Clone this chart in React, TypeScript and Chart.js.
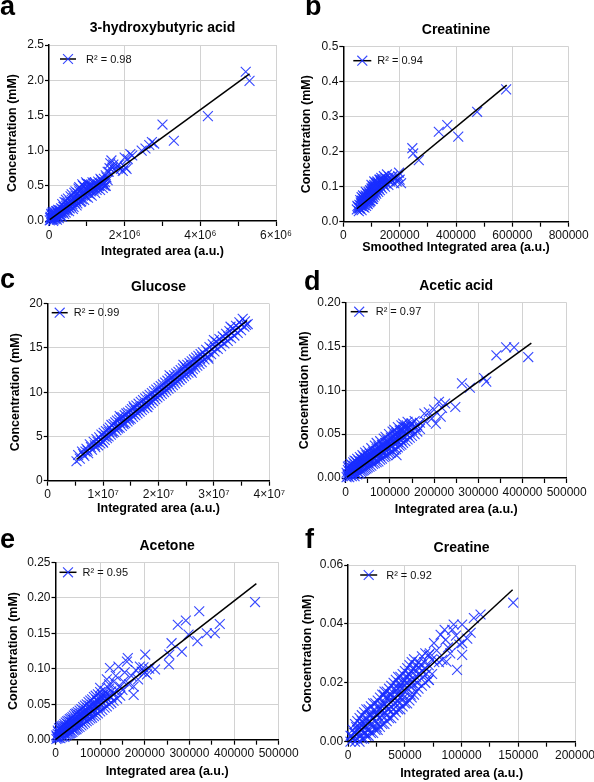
import React, { useEffect, useRef } from 'react';
import { Chart, registerables } from 'chart.js';

Chart.register(...registerables);
Chart.defaults.font.family = '"Liberation Sans", Arial, Helvetica, sans-serif';

type Pt = [number, number];

// ---------------- a: 3-hydroxybutyric acid (area in 10^6 a.u.) ----------------
const hbPoints: Pt[] = [
  [0.02,0.01],[0.03,0.04],[0.04,0.06],[0.05,0.02],[0.06,0.1],[0.07,0.08],[0.08,0.03],[0.09,0.07],[0.1,0.05],[0.1,0.1],
  [0.11,0.0],[0.12,0.02],[0.12,0.13],[0.13,0.09],[0.14,0.05],[0.15,0.06],[0.15,0.03],[0.16,0.12],[0.17,0.08],[0.18,0.04],
  [0.18,0.1],[0.19,0.14],[0.2,0.08],[0.2,0.13],[0.21,0.02],[0.22,0.05],[0.22,0.14],[0.23,0.11],[0.25,0.1],[0.25,0.07],
  [0.26,0.04],[0.27,0.15],[0.28,0.12],[0.29,0.08],[0.3,0.09],[0.3,0.15],[0.32,0.18],[0.33,0.11],[0.34,0.06],[0.35,0.17],
  [0.35,0.24],[0.37,0.13],[0.38,0.2],[0.4,0.1],[0.4,0.2],[0.41,0.27],[0.42,0.16],[0.44,0.12],[0.45,0.22],[0.45,0.3],
  [0.47,0.18],[0.48,0.15],[0.5,0.25],[0.5,0.32],[0.52,0.19],[0.53,0.14],[0.55,0.28],[0.55,0.18],[0.57,0.35],[0.58,0.21],
  [0.6,0.3],[0.6,0.38],[0.62,0.24],[0.63,0.17],[0.65,0.33],[0.65,0.2],[0.67,0.4],[0.68,0.26],[0.7,0.36],[0.7,0.42],
  [0.72,0.28],[0.73,0.22],[0.75,0.4],[0.75,0.25],[0.77,0.3],[0.78,0.46],[0.8,0.42],[0.8,0.48],[0.82,0.34],[0.83,0.27],
  [0.85,0.45],[0.85,0.28],[0.87,0.31],[0.88,0.52],[0.9,0.5],[0.91,0.4],[0.92,0.38],[0.93,0.3],[0.95,0.47],[0.97,0.35],
  [0.98,0.55],[1.0,0.53],[1.0,0.44],[1.02,0.4],[1.03,0.33],[1.05,0.46],[1.06,0.52],[1.08,0.38],[1.1,0.5],[1.1,0.42],
  [1.12,0.43],[1.13,0.36],[1.15,0.55],[1.16,0.48],[1.18,0.45],[1.2,0.48],[1.21,0.55],[1.22,0.4],[1.25,0.52],[1.26,0.44],
  [1.28,0.47],[1.3,0.56],[1.31,0.5],[1.33,0.5],[1.35,0.44],[1.36,0.6],[1.38,0.58],[1.4,0.52],[1.42,0.47],[1.43,0.55],
  [1.45,0.6],[1.47,0.5],[1.48,0.55],[1.5,0.5],[1.5,0.65],[1.52,0.62],[1.55,0.58],[1.55,0.7],[1.58,0.7],[1.6,0.75],
  [1.62,0.82],[1.65,0.86],[1.68,0.76],[1.7,0.8],[1.75,0.72],[1.8,0.78],[1.85,0.8],[1.9,0.74],[1.95,0.71],[2.0,0.9],
  [2.02,0.76],[2.05,0.74],[2.08,0.88],[2.15,0.95],[2.2,0.93],[2.45,1.0],[2.55,1.03],[2.65,1.08],[2.72,1.12],[2.78,1.1],
  [3.0,1.37],[3.3,1.14],[4.2,1.49],[5.2,2.12],[5.3,1.99],
  [0.05,0.05],[0.09,0.12],[0.14,0.1],[0.24,0.16],[0.31,0.12],[0.39,0.16],[0.46,0.26],[0.54,0.23],[0.61,0.27],[0.69,0.31],
  [0.76,0.35],[0.84,0.38],[0.94,0.42],[1.04,0.48],[1.14,0.5],[1.24,0.5],[1.34,0.54],[1.44,0.53],
];
const hbFit: Pt[] = [[0.02, 0.02], [5.3, 2.09]];
const hbXTicks = ['0', '2×10⁶', '4×10⁶', '6×10⁶'];
const hbYTicks = ['0.0', '0.5', '1.0', '1.5', '2.0', '2.5'];

// ---------------- b: Creatinine (area in 10^3 a.u.) ----------------
const crnPoints: Pt[] = [
  [48,0.035],[52,0.042],[55,0.03],[57,0.048],[58,0.04],[60,0.038],[62,0.055],[63,0.045],[64,0.05],[65,0.033],
  [65,0.07],[66,0.06],[68,0.05],[69,0.058],[70,0.042],[71,0.065],[72,0.055],[73,0.063],[74,0.047],[75,0.07],
  [75,0.04],[76,0.06],[77,0.068],[78,0.052],[79,0.075],[80,0.063],[80,0.085],[81,0.045],[82,0.07],[83,0.062],
  [84,0.058],[85,0.08],[85,0.052],[86,0.067],[87,0.05],[88,0.075],[89,0.068],[90,0.062],[90,0.085],[91,0.07],
  [92,0.055],[92,0.072],[93,0.08],[94,0.068],[95,0.09],[95,0.058],[96,0.075],[97,0.06],[97,0.078],[98,0.085],
  [99,0.07],[100,0.095],[100,0.105],[101,0.08],[102,0.065],[103,0.09],[103,0.082],[104,0.075],[105,0.1],[105,0.065],
  [106,0.085],[107,0.07],[107,0.088],[108,0.095],[109,0.08],[110,0.105],[110,0.115],[111,0.09],[112,0.075],[113,0.1],
  [113,0.092],[114,0.085],[115,0.11],[116,0.095],[117,0.08],[118,0.105],[118,0.097],[120,0.09],[121,0.115],[122,0.1],
  [123,0.102],[124,0.085],[125,0.11],[126,0.095],[127,0.107],[128,0.12],[129,0.105],[130,0.09],[132,0.115],[133,0.1],
  [134,0.112],[135,0.125],[136,0.11],[138,0.095],[139,0.113],[140,0.12],[142,0.105],[144,0.13],[145,0.115],[146,0.122],
  [148,0.1],[150,0.125],[152,0.11],[155,0.135],[158,0.12],[160,0.105],[163,0.128],[166,0.115],[170,0.12],[175,0.13],
  [180,0.11],[185,0.125],[190,0.115],[195,0.13],[198,0.14],[200,0.12],[205,0.11],
  [56,0.038],[61,0.046],[67,0.053],[72,0.06],[78,0.059],[84,0.072],[88,0.062],[94,0.078],[99,0.088],[104,0.095],
  [109,0.1],[116,0.1],[119,0.112],[124,0.108],[131,0.12],[137,0.118],[143,0.108],[50,0.045],[70,0.075],[60,0.062],
  [245,0.21],[248,0.195],[268,0.176],[339,0.257],[369,0.276],[408,0.243],[475,0.314],[578,0.378],
];
const crnFit: Pt[] = [[48, 0.037], [580, 0.39]];
const crnXTicks = ['0', '200000', '400000', '600000', '800000'];
const crnYTicks = ['0.0', '0.1', '0.2', '0.3', '0.4', '0.5'];

// ---------------- c: Glucose (area in 10^7 a.u.) ----------------
const gluPoints: Pt[] = [
  [0.52,2.2],[0.55,2.9],[0.58,2.5],[0.62,3.3],[0.66,2.8],[0.7,3.6],[0.73,3.1],[0.76,4.1],[0.8,3.5],[0.83,4.4],
  [0.86,3.8],[0.88,4.7],[0.91,4.0],[0.93,4.9],[0.95,4.2],[0.97,5.2],[0.99,4.4],[1.01,5.4],[1.03,4.6],[1.05,5.6],
  [1.07,4.8],[1.09,5.8],[1.1,5.0],[1.12,6.0],[1.14,5.2],[1.15,6.3],[1.17,5.4],[1.19,6.4],[1.2,5.5],[1.22,6.6],
  [1.24,5.7],[1.25,6.8],[1.27,5.9],[1.29,6.9],[1.3,6.0],[1.32,7.1],[1.34,6.2],[1.35,7.2],[1.37,6.4],[1.39,7.4],
  [1.4,6.5],[1.42,7.6],[1.44,6.7],[1.45,7.7],[1.47,6.9],[1.49,7.9],[1.5,7.0],[1.52,8.1],[1.54,7.2],[1.56,8.2],
  [1.58,7.4],[1.6,8.5],[1.62,7.6],[1.64,8.7],[1.66,7.8],[1.68,8.9],[1.7,8.0],[1.72,9.1],[1.74,8.2],[1.76,9.3],
  [1.78,8.4],[1.8,9.5],[1.82,8.6],[1.84,9.7],[1.86,8.8],[1.88,9.9],[1.9,9.0],[1.92,10.1],[1.94,9.2],[1.96,10.3],
  [1.98,9.4],[2.0,10.5],[2.02,9.6],[2.04,10.7],[2.06,9.8],[2.08,10.9],[2.1,10.0],[2.12,11.1],[2.14,10.2],[2.16,11.3],
  [2.18,10.4],[2.2,11.5],[2.22,10.6],[2.24,11.7],[2.26,10.8],[2.28,11.9],[2.3,11.0],[2.32,12.1],[2.34,11.2],[2.36,12.3],
  [2.38,11.4],[2.4,12.5],[2.42,11.6],[2.44,12.7],[2.46,11.8],[2.48,12.9],[2.5,12.0],[2.52,13.1],[2.54,12.2],[2.56,13.3],
  [2.58,12.4],[2.6,13.5],[2.62,12.6],[2.64,13.7],[2.66,12.8],[2.68,13.9],[2.7,13.0],[2.72,14.1],[2.74,13.2],[2.76,14.3],
  [2.78,13.4],[2.8,14.5],[2.83,13.7],[2.86,14.8],[2.89,14.0],[2.92,15.1],[2.95,14.3],[2.98,15.4],[3.01,14.6],[3.04,15.7],
  [3.07,14.9],[3.1,16.0],[3.13,15.2],[3.16,16.3],[3.19,15.5],[3.22,16.6],[3.25,15.8],[3.28,16.9],[3.31,16.1],[3.34,17.2],
  [3.37,16.4],[3.4,17.5],[3.43,16.7],[3.46,17.9],[3.49,17.0],[3.52,18.3],[3.55,17.4],[3.58,17.6],[3.61,17.7],
  [0.64,3.0],[0.68,3.3],[0.72,3.4],[0.78,3.8],[0.85,4.0],[0.9,4.4],[0.96,4.6],[1.02,5.0],[1.06,5.1],[1.11,5.5],
  [1.16,5.6],[1.21,6.0],[1.26,6.1],[1.31,6.5],[1.36,6.6],[1.41,7.0],[1.46,7.1],[1.51,7.5],[1.55,7.6],[1.59,7.9],
  [1.63,8.0],[1.67,8.3],[1.71,8.4],[1.75,8.7],[1.79,8.8],[1.83,9.1],[1.87,9.2],[1.91,9.5],[1.95,9.6],[1.99,9.9],
  [2.03,10.1],[2.07,10.3],[2.11,10.5],[2.15,10.7],[2.19,10.9],[2.23,11.1],[2.27,11.3],[2.31,11.5],[2.35,11.7],[2.39,11.9],
  [2.43,12.1],[2.47,12.3],[2.51,12.6],[2.55,12.7],[2.59,13.0],[2.63,13.1],[2.67,13.4],[2.71,13.5],[2.75,13.8],[2.79,14.0],
  [2.84,14.2],[2.9,14.5],[2.96,14.9],[3.02,15.1],[3.08,15.5],[3.14,15.7],[3.2,16.1],[3.26,16.3],[3.32,16.7],[3.38,17.0],
  [3.44,17.3],[3.5,17.6],[3.56,18.0],[1.3,7.3],[1.8,8.3],[2.2,11.9],[2.6,12.2],[3.0,15.9],[1.0,4.3],[2.45,13.1],
  [1.55,8.4],[2.9,13.8],[3.3,17.4],
];
const gluFit: Pt[] = [[0.52, 2.4], [3.6, 18.1]];
const gluXTicks = ['0', '1×10⁷', '2×10⁷', '3×10⁷', '4×10⁷'];
const gluYTicks = ['0', '5', '10', '15', '20'];

// ---------------- d: Acetic acid (area in 10^3 a.u.) ----------------
const aceticPoints: Pt[] = [
  [2,0.001],[2,0.006],[5,0.002],[5,0.009],[5,0.013],[8,0.001],[8,0.007],[8,0.014],[11,0.003],[11,0.01],
  [11,0.016],[14,0.002],[14,0.008],[14,0.015],[17,0.004],[17,0.011],[17,0.018],[20,0.002],[20,0.009],[20,0.016],
  [20,0.02],[23,0.005],[23,0.012],[23,0.019],[26,0.004],[26,0.01],[26,0.017],[26,0.022],[29,0.006],[29,0.013],
  [29,0.02],[32,0.005],[32,0.011],[32,0.018],[32,0.024],[35,0.007],[35,0.015],[35,0.022],[38,0.008],[38,0.013],
  [38,0.02],[38,0.026],[41,0.009],[41,0.017],[41,0.024],[44,0.01],[44,0.015],[44,0.022],[44,0.029],[47,0.011],
  [47,0.019],[47,0.026],[50,0.012],[50,0.017],[50,0.024],[50,0.031],[54,0.013],[54,0.021],[54,0.028],[58,0.014],
  [58,0.019],[58,0.026],[58,0.034],[62,0.016],[62,0.023],[62,0.03],[66,0.017],[66,0.022],[66,0.029],[66,0.037],
  [70,0.018],[70,0.026],[70,0.033],[70,0.04],[74,0.019],[74,0.028],[74,0.036],[78,0.021],[78,0.025],[78,0.031],
  [78,0.042],[82,0.022],[82,0.03],[82,0.038],[86,0.024],[86,0.028],[86,0.034],[86,0.045],[90,0.025],[90,0.032],
  [90,0.04],[90,0.047],[94,0.026],[94,0.036],[94,0.043],[98,0.028],[98,0.033],[98,0.039],[98,0.05],[102,0.029],
  [102,0.037],[102,0.046],[106,0.03],[106,0.036],[106,0.042],[106,0.053],[110,0.032],[110,0.04],[110,0.048],[110,0.055],
  [114,0.033],[114,0.044],[114,0.051],[118,0.035],[118,0.041],[118,0.047],[118,0.058],[122,0.037],[122,0.045],[122,0.054],
  [126,0.038],[126,0.043],[126,0.05],[126,0.06],[130,0.04],[130,0.047],[130,0.055],[130,0.062],[135,0.042],[135,0.051],
  [135,0.058],[140,0.044],[140,0.049],[140,0.056],[140,0.064],[145,0.046],[145,0.053],[145,0.06],[150,0.048],[150,0.055],
  [150,0.062],[156,0.05],[156,0.058],[156,0.065],[162,0.053],[162,0.06],[168,0.056],[168,0.063],[115,0.026],[159,0.058],
  [4,0.004],[7,0.011],[10,0.008],[13,0.012],[16,0.007],[19,0.014],[22,0.01],[25,0.013],[28,0.016],[31,0.014],
  [34,0.019],[37,0.017],[40,0.021],[43,0.019],[46,0.023],[49,0.021],[52,0.026],[56,0.023],[60,0.028],[64,0.027],
  [68,0.031],[72,0.03],[76,0.034],[80,0.033],[84,0.037],[88,0.036],[92,0.04],[96,0.041],[100,0.043],[104,0.045],
  [108,0.047],[112,0.049],[116,0.052],[120,0.05],[124,0.055],[128,0.054],[132,0.058],[138,0.06],[143,0.057],[148,0.062],
  [178,0.0735],[181,0.064],[188,0.075],[195,0.068],[200,0.078],[204,0.062],[211,0.087],[215,0.07],[218,0.08],[225,0.085],
  [248,0.081],[263,0.108],[281,0.103],[313,0.114],[318,0.11],[341,0.14],[363,0.149],[381,0.149],[413,0.138],
];
const aceticFit: Pt[] = [[3, 0.001], [420, 0.154]];
const aceticXTicks = ['0', '100000', '200000', '300000', '400000', '500000'];
const aceticYTicks = ['0.00', '0.05', '0.10', '0.15', '0.20'];

// ---------------- e: Acetone (area in 10^3 a.u.) ----------------
const acetonePoints: Pt[] = [
  [2,0.001],[2,0.006],[5,0.002],[5,0.008],[5,0.013],[8,0.003],[8,0.01],[8,0.016],[11,0.002],[11,0.009],
  [11,0.015],[11,0.018],[14,0.004],[14,0.011],[14,0.019],[17,0.005],[17,0.013],[17,0.02],[20,0.004],[20,0.01],
  [20,0.016],[20,0.022],[23,0.006],[23,0.014],[23,0.024],[26,0.007],[26,0.012],[26,0.019],[26,0.026],[29,0.008],
  [29,0.016],[29,0.027],[32,0.009],[32,0.014],[32,0.021],[32,0.029],[35,0.01],[35,0.018],[35,0.03],[38,0.011],
  [38,0.016],[38,0.024],[38,0.032],[41,0.013],[41,0.02],[41,0.028],[41,0.034],[44,0.014],[44,0.022],[44,0.036],
  [47,0.015],[47,0.019],[47,0.027],[47,0.037],[50,0.017],[50,0.024],[50,0.032],[50,0.039],[54,0.018],[54,0.027],
  [54,0.041],[58,0.02],[58,0.025],[58,0.033],[58,0.043],[62,0.022],[62,0.03],[62,0.038],[62,0.046],[66,0.024],
  [66,0.029],[66,0.036],[66,0.048],[70,0.026],[70,0.033],[70,0.042],[70,0.05],[74,0.028],[74,0.037],[74,0.053],
  [78,0.03],[78,0.035],[78,0.045],[78,0.055],[82,0.031],[82,0.039],[82,0.049],[82,0.057],[86,0.033],[86,0.042],
  [86,0.06],[90,0.035],[90,0.04],[90,0.05],[90,0.062],[95,0.037],[95,0.045],[95,0.055],[95,0.064],[100,0.04],
  [100,0.048],[100,0.058],[100,0.067],[105,0.042],[105,0.052],[105,0.063],[110,0.045],[110,0.055],[110,0.069],[115,0.047],
  [115,0.058],[115,0.065],[120,0.05],[120,0.062],[120,0.072],[125,0.052],[125,0.06],[125,0.068],[130,0.055],[130,0.066],
  [130,0.082],[138,0.058],[138,0.07],[145,0.062],[145,0.075],
  [3,0.004],[6,0.011],[9,0.007],[12,0.012],[15,0.016],[18,0.009],[21,0.019],[24,0.017],[27,0.022],[30,0.02],
  [33,0.025],[36,0.024],[39,0.028],[42,0.025],[45,0.03],[48,0.033],[52,0.035],[56,0.037],[60,0.034],[64,0.041],
  [68,0.04],[72,0.045],[76,0.048],[80,0.043],[84,0.052],[88,0.047],[92,0.056],[97,0.052],[102,0.06],[108,0.058],
  [112,0.063],
  [100,0.073],[107,0.063],[115,0.085],[120,0.078],[122,0.101],[135,0.09],[141,0.103],[150,0.07],[152,0.082],[155,0.095],
  [160,0.11],[162,0.115],[165,0.078],[170,0.09],[175,0.075],[175,0.063],[180,0.098],[185,0.085],[189,0.103],[193,0.096],
  [197,0.102],[200,0.095],[201,0.12],[205,0.092],[210,0.1],[223,0.099],[254,0.106],[255,0.12],[260,0.136],[274,0.162],
  [283,0.124],[292,0.168],[298,0.148],[318,0.139],[322,0.181],[339,0.15],[357,0.15],[368,0.163],[447,0.194],
];
const acetoneFit: Pt[] = [[0, 0.0], [450, 0.22]];
const acetoneXTicks = ['0', '100000', '200000', '300000', '400000', '500000'];
const acetoneYTicks = ['0.00', '0.05', '0.10', '0.15', '0.20', '0.25'];

// ---------------- f: Creatine (area in 10^3 a.u.) ----------------
const creatinePoints: Pt[] = [
  [2,0.0],[2,0.002],[4,0.001],[4,0.004],[6,0.0],[6,0.003],[6,0.006],[8,0.001],[8,0.004],[8,0.007],
  [10,0.0],[10,0.002],[10,0.005],[10,0.008],[12,0.001],[12,0.004],[12,0.007],[12,0.009],[14,0.001],[14,0.003],
  [14,0.006],[14,0.01],[16,0.002],[16,0.005],[16,0.008],[16,0.011],[18,0.002],[18,0.004],[18,0.007],[18,0.011],
  [20,0.003],[20,0.006],[20,0.009],[20,0.012],[22,0.003],[22,0.005],[22,0.008],[22,0.013],[24,0.004],[24,0.007],
  [24,0.01],[24,0.013],[26,0.004],[26,0.006],[26,0.009],[26,0.014],[28,0.005],[28,0.008],[28,0.011],[28,0.015],
  [30,0.006],[30,0.009],[30,0.012],[30,0.016],[32,0.006],[32,0.01],[32,0.013],[32,0.017],[34,0.007],[34,0.009],
  [34,0.012],[34,0.017],[36,0.008],[36,0.011],[36,0.014],[36,0.018],[38,0.008],[38,0.012],[38,0.016],[38,0.019],
  [40,0.009],[40,0.011],[40,0.015],[40,0.02],[42,0.01],[42,0.013],[42,0.017],[42,0.021],[44,0.011],[44,0.014],
  [44,0.018],[44,0.022],[46,0.011],[46,0.015],[46,0.019],[46,0.022],[48,0.012],[48,0.016],[48,0.02],[48,0.023],
  [50,0.013],[50,0.017],[50,0.021],[50,0.024],[52,0.013],[52,0.018],[52,0.022],[52,0.025],[54,0.014],[54,0.019],
  [54,0.023],[54,0.026],[56,0.015],[56,0.02],[56,0.024],[56,0.027],[58,0.016],[58,0.021],[58,0.025],[58,0.028],
  [60,0.017],[60,0.022],[60,0.026],[62,0.018],[62,0.023],[62,0.027],[65,0.019],[65,0.024],[65,0.029],[68,0.02],
  [68,0.025],[68,0.03],[71,0.021],[71,0.026],[74,0.023],[74,0.028],
  [3,0.002],[5,0.003],[7,0.005],[9,0.003],[11,0.006],[13,0.005],[15,0.007],[17,0.004],[19,0.009],[21,0.008],
  [23,0.011],[25,0.009],[27,0.012],[29,0.01],[31,0.013],[33,0.015],[35,0.011],[37,0.016],[39,0.014],[41,0.018],
  [43,0.016],[45,0.02],[47,0.018],[49,0.015],[51,0.02],[53,0.023],[55,0.021],[57,0.019],[59,0.024],[61,0.02],
  [63,0.025],[67,0.027],[69,0.023],[72,0.03],[76,0.027],[45,0.013],[35,0.015],[25,0.005],[15,0.003],[55,0.016],
  [31.5,0.0159],[63.8,0.0261],[66,0.022],[71.2,0.0295],[71.2,0.021],[75.6,0.0335],[78,0.031],[80,0.027],[81.5,0.0363],[82.9,0.0278],
  [85,0.038],[85.9,0.0346],[86.6,0.0272],[88,0.032],[90,0.03],[91.7,0.038],[93,0.0398],[95,0.036],[96,0.0244],[98,0.033],
  [100.5,0.0398],[100.5,0.0335],[100.5,0.0295],[105,0.035],[108,0.037],[110.8,0.042],[116.7,0.0432],[145.5,0.0472],
];
const creatineFit: Pt[] = [[0, 0.0], [145, 0.0516]];
const creatineXTicks = ['0', '50000', '100000', '150000', '200000'];
const creatineYTicks = ['0.00', '0.02', '0.04', '0.06'];

// ---------------- styling ----------------
const MARK = 'rgba(25,45,255,0.88)';
const GRID = '#d2d2d2';
const NONE = 'rgba(0,0,0,0)';
const FAM = '"Liberation Sans", Arial, Helvetica, sans-serif';
const AXIS_TITLE = 12.5;
const HALF = (AXIS_TITLE * 1.2) / 2;

interface Panel {
  letter: string; title: string; xTitle: string; r2: string;
  points: Pt[]; fit: Pt[];
  xMax: number; xMinor: number; xMajor: number; xTicks: string[];
  yMax: number; yStep: number; yTicks: string[];
  box: [number, number, number, number];
  plot: [number, number, number, number];
  yGap: number; xGap: number;
  legend: [number, number, number, number];
  letterAt: [number, number];
}

const panels: Panel[] = [
  { letter: 'a', title: '3-hydroxybutyric acid', xTitle: 'Integrated area (a.u.)', r2: 'R² = 0.98',
    points: hbPoints, fit: hbFit, xMax: 6, xMinor: 1, xMajor: 2, xTicks: hbXTicks,
    yMax: 2.5, yStep: 0.5, yTicks: hbYTicks,
    box: [0, 0, 320, 265], plot: [49, 45, 276, 221], yGap: 36, xGap: 30.5,
    legend: [11, 27, 14, 37], letterAt: [0, 15] },
  { letter: 'b', title: 'Creatinine', xTitle: 'Smoothed Integrated area (a.u.)', r2: 'R² = 0.94',
    points: crnPoints, fit: crnFit, xMax: 800, xMinor: 100, xMajor: 200, xTicks: crnXTicks,
    yMax: 0.5, yStep: 0.1, yTicks: crnYTicks,
    box: [294, 0, 310, 265], plot: [343.3, 46.7, 568.7, 221.7], yGap: 37, xGap: 25.5,
    legend: [10, 28, 14, 34], letterAt: [305, 15] },
  { letter: 'c', title: 'Glucose', xTitle: 'Integrated area (a.u.)', r2: 'R² = 0.99',
    points: gluPoints, fit: gluFit, xMax: 4, xMinor: 0.5, xMajor: 1, xTicks: gluXTicks,
    yMax: 20, yStep: 5, yTicks: gluYTicks,
    box: [0, 255, 320, 268], plot: [47.7, 303.7, 269.3, 480.7], yGap: 32.4, xGap: 27.6,
    legend: [4, 20, 9, 26], letterAt: [0, 288] },
  { letter: 'd', title: 'Acetic acid', xTitle: 'Integrated area (a.u.)', r2: 'R² = 0.97',
    points: aceticPoints, fit: aceticFit, xMax: 500, xMinor: 50, xMajor: 100, xTicks: aceticXTicks,
    yMax: 0.2, yStep: 0.05, yTicks: aceticYTicks,
    box: [294, 255, 310, 268], plot: [345.7, 302.7, 566.7, 478], yGap: 40.7, xGap: 31.3,
    legend: [5, 22, 9, 30], letterAt: [304, 290] },
  { letter: 'e', title: 'Acetone', xTitle: 'Integrated area (a.u.)', r2: 'R² = 0.95',
    points: acetonePoints, fit: acetoneFit, xMax: 500, xMinor: 50, xMajor: 100, xTicks: acetoneXTicks,
    yMax: 0.25, yStep: 0.05, yTicks: acetoneYTicks,
    box: [0, 515, 320, 270], plot: [55.5, 562.3, 278.7, 739.7], yGap: 41.7, xGap: 32.3,
    legend: [4, 21, 10, 27], letterAt: [0, 548] },
  { letter: 'f', title: 'Creatine', xTitle: 'Integrated area (a.u.)', r2: 'R² = 0.92',
    points: creatinePoints, fit: creatineFit, xMax: 200, xMinor: 25, xMajor: 50, xTicks: creatineXTicks,
    yMax: 0.06, yStep: 0.02, yTicks: creatineYTicks,
    box: [294, 515, 310, 270], plot: [348.2, 565, 575, 741.7], yGap: 41, xGap: 32,
    legend: [12, 29, 10, 38], letterAt: [305, 548] },
];

const nearInt = (k: number) => Math.abs(k - Math.round(k)) < 1e-6;

function makeDecor(p: Panel) {
  return {
    id: 'decor' + p.letter,
    afterDraw(chart: any) {
      const ctx: CanvasRenderingContext2D = chart.ctx;
      const ca = chart.chartArea;
      const [bl, bt] = p.box;
      ctx.save();
      ctx.fillStyle = '#000';
      ctx.textAlign = 'left';
      ctx.textBaseline = 'alphabetic';
      ctx.font = `bold 27px ${FAM}`;
      ctx.fillText(p.letter, p.letterAt[0] - bl, p.letterAt[1] - bt);
      ctx.font = `bold 14px ${FAM}`;
      ctx.textAlign = 'center';
      ctx.textBaseline = 'middle';
      ctx.fillText(p.title, (ca.left + ca.right) / 2, ca.top - 16.5);
      const [x0, x1, ly, tx] = p.legend;
      const cy = ca.top + ly;
      ctx.strokeStyle = '#000';
      ctx.lineWidth = 1.5;
      ctx.beginPath();
      ctx.moveTo(ca.left + x0, cy);
      ctx.lineTo(ca.left + x1, cy);
      ctx.stroke();
      const cx = ca.left + (x0 + x1) / 2;
      const r = 7 * Math.SQRT1_2;
      ctx.strokeStyle = MARK;
      ctx.lineWidth = 1.1;
      ctx.beginPath();
      ctx.moveTo(cx - r, cy - r); ctx.lineTo(cx + r, cy + r);
      ctx.moveTo(cx + r, cy - r); ctx.lineTo(cx - r, cy + r);
      ctx.stroke();
      ctx.fillStyle = '#111';
      ctx.font = `11px ${FAM}`;
      ctx.textAlign = 'left';
      ctx.fillText(p.r2, ca.left + tx, cy + 0.5);
      ctx.restore();
    },
  };
}

function buildConfig(p: Panel): any {
  const [bl, bt, bw, bh] = p.box;
  const [L, T, R, B] = p.plot;
  const yW = p.yGap + HALF;
  const xH = p.xGap + HALF;
  return {
    type: 'scatter',
    data: {
      datasets: [
        { data: p.fit.map(([x, y]) => ({ x, y })), showLine: true, borderColor: '#000', borderWidth: 1.5,
          pointRadius: 0, order: 0, clip: false },
        { data: p.points.map(([x, y]) => ({ x, y })), pointStyle: 'crossRot', pointRadius: 7,
          borderColor: MARK, backgroundColor: MARK, borderWidth: 1.1, order: 1, clip: false },
      ],
    },
    options: {
      responsive: false,
      maintainAspectRatio: false,
      animation: false,
      events: [],
      layout: { padding: { left: L - bl - yW, top: T - bt, right: bl + bw - R, bottom: bt + bh - B - xH } },
      plugins: { legend: { display: false }, tooltip: { enabled: false }, title: { display: false } },
      scales: {
        x: {
          type: 'linear', min: 0, max: p.xMax,
          afterFit: (s: any) => { s.height = xH; },
          ticks: {
            stepSize: p.xMinor, autoSkip: false, maxRotation: 0, minRotation: 0, padding: 2,
            color: '#111', font: { size: 12 },
            callback: (v: number) => { const k = v / p.xMajor; return nearInt(k) ? p.xTicks[Math.round(k)] : ''; },
          },
          grid: {
            color: (c: any) => {
              const v = c.tick ? c.tick.value : 0;
              return v > 0 && nearInt(v / p.xMajor) ? GRID : NONE;
            },
            tickColor: '#000', tickLength: 5, lineWidth: 1, tickWidth: 1.2,
          },
          border: { color: '#000', width: 1.5 },
          title: { display: true, text: p.xTitle, color: '#000', padding: 0, font: { size: AXIS_TITLE, weight: 'bold' } },
        },
        y: {
          type: 'linear', min: 0, max: p.yMax,
          afterFit: (s: any) => { s.width = yW; },
          ticks: {
            stepSize: p.yStep, autoSkip: false, padding: 1, color: '#111', font: { size: 12 },
            callback: (v: number) => p.yTicks[Math.round(v / p.yStep)],
          },
          grid: {
            color: (c: any) => (c.tick && c.tick.value > 1e-9 ? GRID : NONE),
            tickColor: '#000', tickLength: 4, lineWidth: 1, tickWidth: 1.2,
          },
          border: { color: '#000', width: 1.5 },
          title: { display: true, text: 'Concentration (mM)', color: '#000', padding: 0, font: { size: AXIS_TITLE, weight: 'bold' } },
        },
      },
    },
    plugins: [makeDecor(p)],
  };
}

function PanelChart({ p }: { p: Panel }) {
  const ref = useRef<HTMLCanvasElement>(null);
  useEffect(() => {
    if (!ref.current) return;
    const chart = new Chart(ref.current, buildConfig(p));
    return () => chart.destroy();
  }, [p]);
  const [l, t, w, h] = p.box;
  return (
    <canvas ref={ref} width={w} height={h}
      style={{ position: 'absolute', left: l, top: t, width: w, height: h }} />
  );
}

export default function App() {
  return (
    <div style={{ position: 'absolute', left: 0, top: 0, width: 594, height: 782, overflow: 'hidden', background: '#fff' }}>
      {panels.map((p) => <PanelChart key={p.letter} p={p} />)}
    </div>
  );
}
